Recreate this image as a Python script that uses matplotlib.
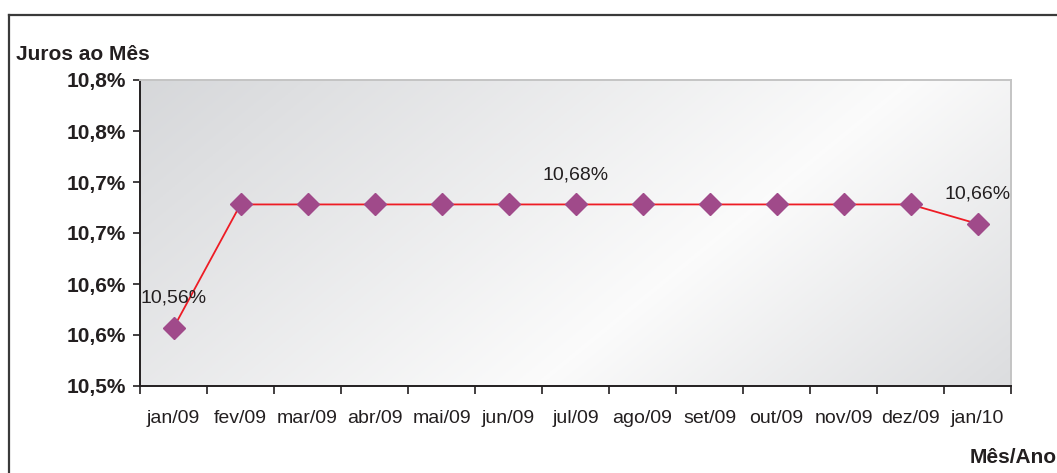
import numpy as np
import matplotlib
matplotlib.use("Agg")
import matplotlib.pyplot as plt
from matplotlib.lines import Line2D

plt.rcParams['font.family'] = ['Liberation Sans', 'DejaVu Sans']

months = ["jan/09", "fev/09", "mar/09", "abr/09", "mai/09", "jun/09", "jul/09",
          "ago/09", "set/09", "out/09", "nov/09", "dez/09", "jan/10"]
rates = [10.557, 10.678, 10.678, 10.678, 10.678, 10.678, 10.678,
         10.678, 10.678, 10.678, 10.678, 10.678, 10.659]
labelled = {0: "10,56%", 6: "10,68%", 12: "10,66%"}
yticks = [10.50, 10.55, 10.60, 10.65, 10.70, 10.75, 10.80]
ytick_labels = ["10,5%", "10,6%", "10,6%", "10,7%", "10,7%", "10,8%", "10,8%"]

W, H = 1057, 473
fig = plt.figure(figsize=(W / 100, H / 100), dpi=100)
fig.patch.set_facecolor("white")

# outer frame
fig.add_artist(Line2D([9 / W, 9 / W], [0, 1 - 15 / H], transform=fig.transFigure,
                      color="#3a3a3a", lw=1.6))
fig.add_artist(Line2D([9 / W, 1], [1 - 15 / H, 1 - 15 / H], transform=fig.transFigure,
                      color="#3a3a3a", lw=1.6))

left, right, top, bottom = 140, 1011, 80, 386
ax = fig.add_axes([left / W, 1 - bottom / H, (right - left) / W, (bottom - top) / H])

n = len(months)
x = np.arange(n)
ax.set_xlim(-0.5, n - 0.5)
ax.set_ylim(10.5, 10.8)

# gradient background
gx, gy = np.meshgrid(np.linspace(0, 1, 300), np.linspace(0, 1, 120))
t = gx * 0.7 + gy * 0.3
dark = np.array([0.84, 0.845, 0.855])
light = np.array([0.985, 0.985, 0.985])
mid = 0.62
w = np.where(t < mid, t / mid, 1 - (t - mid) / (1 - mid) * 0.85)
w = np.clip(w, 0, 1)
img = dark[None, None, :] * (1 - w[..., None]) + light[None, None, :] * w[..., None]
ax.imshow(img, extent=[-0.5, n - 0.5, 10.5, 10.8], aspect="auto", origin="upper",
          zorder=0)

ax.plot(x, rates, color="#ee1c25", lw=1.3, zorder=2)
ax.plot(x, rates, linestyle="none", marker="D", markersize=11,
        color="#a04a8a", markeredgecolor="#a04a8a", zorder=3)

for i, txt in labelled.items():
    ax.annotate(txt, (x[i], rates[i]), xytext=(0, 21.5), textcoords="offset points",
                ha="center", va="center", fontsize=14, color="#231f20")

ax.set_yticks(yticks)
ax.set_yticklabels(ytick_labels, fontsize=15, fontweight="bold", color="#231f20")
ax.set_xticks(x)
ax.set_xticklabels(months, fontsize=14, color="#231f20")
ax.set_xticks(np.arange(n + 1) - 0.5, minor=True)
ax.tick_params(axis="x", which="major", length=0, pad=17)
ax.tick_params(axis="x", which="minor", length=6, width=1.2, color="#231f20")
ax.tick_params(axis="y", length=5, width=1.2, color="#231f20", pad=5)

for s in ["left", "bottom"]:
    ax.spines[s].set_color("#231f20")
    ax.spines[s].set_linewidth(1.4)
for s in ["top", "right"]:
    ax.spines[s].set_color("#c4c4c4")
    ax.spines[s].set_linewidth(1.4)

fig.text(16 / W, 1 - 55 / H, "Juros ao Mês", fontsize=15, fontweight="bold",
         color="#231f20", ha="left", va="center")
fig.text(970 / W, 1 - 457 / H, "Mês/Ano", fontsize=15, fontweight="bold",
         color="#231f20", ha="left", va="center")

fig.savefig("out.png", dpi=100)
